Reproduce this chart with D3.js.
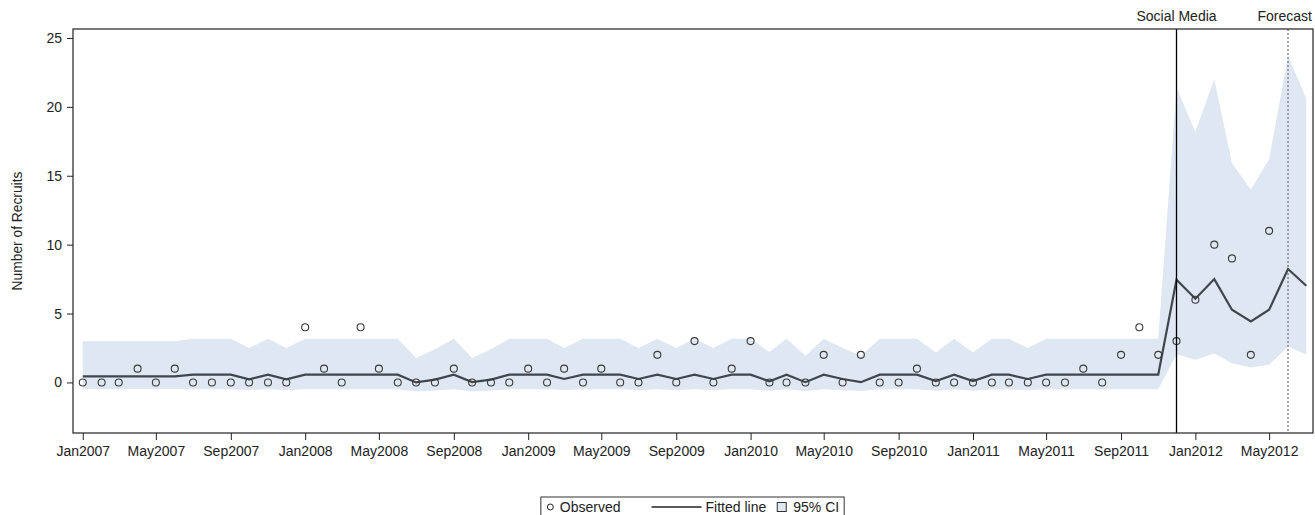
<!DOCTYPE html>
<html>
<head>
<meta charset="utf-8">
<script src="https://cdn.jsdelivr.net/npm/d3@7"></script>
<style>
  body { margin: 0; background: #fff; }
  svg text { font-family: "Liberation Sans", Arial, sans-serif; fill: #222; }
</style>
</head>
<body>
<div id="chart"></div>
<script>
// Monthly series, Jan2007 .. Jul2012
const firstMonth = new Date(2007, 0, 1)
const observed = [
    0, 0, 0, 1, 0, 1, 0, 0, 0, 0, 0, 0,
    4, 1, 0, 4, 1, 0, 0, 0, 1, 0, 0, 0,
    1, 0, 1, 0, 1, 0, 0, 2, 0, 3, 0, 1,
    3, 0, 0, 0, 2, 0, 2, 0, 0, 1, 0, 0,
    0, 0, 0, 0, 0, 0, 1, 0, 2, 4, 2, 3,
    6, 10, 9, 2, 11
]
const fitted = [
    0.44, 0.44, 0.44, 0.44, 0.44, 0.44, 0.56, 0.56, 0.56, 0.22, 0.56, 0.22,
    0.56, 0.56, 0.56, 0.56, 0.56, 0.56, 0.0, 0.2, 0.56, 0.03, 0.2, 0.56,
    0.56, 0.56, 0.25, 0.56, 0.56, 0.56, 0.25, 0.56, 0.25, 0.56, 0.25, 0.56,
    0.56, 0.08, 0.56, 0.02, 0.56, 0.25, 0.02, 0.56, 0.56, 0.56, 0.1, 0.56,
    0.1, 0.56, 0.56, 0.25, 0.56, 0.56, 0.56, 0.56, 0.56, 0.56, 0.56, 7.45,
    6.07, 7.5, 5.28, 4.43, 5.28, 8.23, 7.02
]
const ciUpper = [
    2.98, 2.98, 2.98, 2.98, 2.98, 2.98, 3.17, 3.17, 3.17, 2.49, 3.17, 2.49,
    3.17, 3.17, 3.17, 3.17, 3.17, 3.17, 1.77, 2.4, 3.17, 1.77, 2.4, 3.17,
    3.17, 3.17, 2.49, 3.17, 3.17, 3.17, 2.49, 3.17, 2.49, 3.17, 2.49, 3.17,
    3.17, 2.2, 3.17, 1.94, 3.17, 2.49, 1.94, 3.17, 3.17, 3.17, 2.18, 3.17,
    2.18, 3.17, 3.17, 2.5, 3.17, 3.17, 3.17, 3.17, 3.17, 3.17, 3.17, 21.4,
    18.2, 22.0, 15.9, 14.0, 16.2, 23.7, 20.6
]
const ciLower = [
    -0.48, -0.48, -0.48, -0.48, -0.48, -0.48, -0.5, -0.5, -0.5, -0.55, -0.5, -0.55,
    -0.5, -0.5, -0.5, -0.5, -0.5, -0.5, -0.65, -0.58, -0.5, -0.65, -0.58, -0.5,
    -0.5, -0.5, -0.55, -0.5, -0.5, -0.5, -0.55, -0.5, -0.55, -0.5, -0.55, -0.5,
    -0.5, -0.6, -0.5, -0.62, -0.5, -0.55, -0.62, -0.5, -0.5, -0.5, -0.6, -0.5,
    -0.6, -0.5, -0.5, -0.55, -0.5, -0.5, -0.5, -0.5, -0.5, -0.5, -0.5, 2.05,
    1.65, 2.1, 1.4, 1.08, 1.28, 2.6, 2.0
]
const yTicks = [0, 5, 10, 15, 20, 25]
const refLines = [
    { label: "Social Media", date: new Date(2011, 11, 1), dash: null },
    { label: "Forecast", date: new Date(2012, 5, 1), dash: "2,2" }
]
const legendItems = ["Observed", "Fitted line", "95% CI"]

const months = fitted.map((v, i) => d3.timeMonth.offset(firstMonth, i))
const rows = months.map((m, i) => ({
    date: m, obs: observed[i], fit: fitted[i], lo: ciLower[i], hi: ciUpper[i]
}))

// Canvas
const W = 1315, H = 515
const margin = { top: 29, right: 2, bottom: 82, left: 73 }
const width = W - margin.left - margin.right
const height = H - margin.top - margin.bottom
const fontSize = 14

const svg = d3.select("#chart").append("svg")
    .attr("width", W).attr("height", H)

const g = svg.append("g")
    .attr("transform", `translate(${margin.left},${margin.top})`)

// Scales
const xScale = d3.scaleTime()
    .domain([d3.timeDay.offset(months[0], -16), d3.timeDay.offset(months[months.length - 1], 11)])
    .range([0, width])
const yScale = d3.scaleLinear().domain([-3.67, 25.65]).range([height, 0])

// CI band
g.append("path")
    .datum(rows)
    .attr("fill", "#dfe7f2")
    .attr("d", d3.area()
        .x(d => xScale(d.date))
        .y0(d => yScale(d.lo))
        .y1(d => yScale(d.hi)))

// Fitted line
g.append("path")
    .datum(rows)
    .attr("fill", "none")
    .attr("stroke", "#40464d")
    .attr("stroke-width", 2.2)
    .attr("d", d3.line().x(d => xScale(d.date)).y(d => yScale(d.fit)))

// Observed points
g.append("g")
    .selectAll("circle")
    .data(rows.filter(d => d.obs != null))
    .enter()
    .append("circle")
    .attr("cx", d => xScale(d.date))
    .attr("cy", d => yScale(d.obs))
    .attr("r", 3.5)
    .attr("fill", "none")
    .attr("stroke", "#3a3a3a")
    .attr("stroke-width", 1.1)

// Reference lines
refLines.forEach((r, i) => {
    const x = xScale(r.date)
    g.append("line")
        .attr("x1", x).attr("x2", x)
        .attr("y1", 0).attr("y2", height)
        .attr("stroke", r.dash ? "#555" : "#000")
        .attr("stroke-width", r.dash ? 1 : 1.3)
        .attr("stroke-dasharray", r.dash)
    const label = g.append("text")
        .attr("x", x)
        .attr("y", -8)
        .attr("text-anchor", "middle")
        .attr("font-size", fontSize)
        .text(r.label)
    // keep the label inside the canvas
    const half = label.node().getComputedTextLength() / 2
    if (x + half > width - 1) label.attr("text-anchor", "end").attr("x", width - 1)
})

// Axes
const xTickDates = d3.timeMonth.every(4).range(months[0], d3.timeDay.offset(months[months.length - 1], 1))
const xAxis = g.append("g")
    .attr("transform", `translate(0,${height})`)
    .call(d3.axisBottom(xScale).tickValues(xTickDates).tickFormat(d3.timeFormat("%b%Y")).tickSize(7).tickPadding(6))
const yAxis = g.append("g")
    .call(d3.axisLeft(yScale).tickValues(yTicks).tickSize(6).tickPadding(5))

;[xAxis, yAxis].forEach(a => {
    a.select(".domain").remove()
    a.selectAll("line").attr("stroke", "#222")
    a.selectAll("text").attr("font-size", fontSize).style("fill", "#222")
})

// Frame
g.append("rect")
    .attr("width", width).attr("height", height)
    .attr("fill", "none")
    .attr("stroke", "#222")
    .attr("stroke-width", 1.2)

// Y label
svg.append("text")
    .attr("transform", `translate(22,${margin.top + height / 2}) rotate(-90)`)
    .attr("text-anchor", "middle")
    .attr("font-size", 13.8)
    .text("Number of Recruits")

// Legend
const lg = svg.append("g")
    .attr("transform", `translate(${margin.left + width / 2},${H - 8})`)
const box = lg.append("rect")
    .attr("fill", "#fff").attr("stroke", "#333").attr("stroke-width", 1)
const items = lg.append("g")
let cx = 0
// Observed
items.append("circle").attr("cx", cx + 3.5).attr("cy", 0).attr("r", 3)
    .attr("fill", "none").attr("stroke", "#222")
cx += 13
let t = items.append("text").attr("x", cx).attr("y", 5).attr("font-size", fontSize).text(legendItems[0])
cx += t.node().getComputedTextLength() + 31
// Fitted line
items.append("line").attr("x1", cx).attr("x2", cx + 50).attr("y1", 0).attr("y2", 0)
    .attr("stroke", "#222").attr("stroke-width", 1.5)
cx += 54
t = items.append("text").attr("x", cx).attr("y", 5).attr("font-size", fontSize).text(legendItems[1])
cx += t.node().getComputedTextLength() + 11
// CI
items.append("rect").attr("x", cx).attr("y", -4.5).attr("width", 9).attr("height", 9)
    .attr("fill", "#dfe7f2").attr("stroke", "#333")
cx += 16
t = items.append("text").attr("x", cx).attr("y", 5).attr("font-size", fontSize).text(legendItems[2])
cx += t.node().getComputedTextLength()
items.attr("transform", `translate(${-cx / 2},0)`)
box.attr("x", -cx / 2 - 6).attr("y", -10).attr("width", cx + 11).attr("height", 20)
</script>
</body>
</html>
